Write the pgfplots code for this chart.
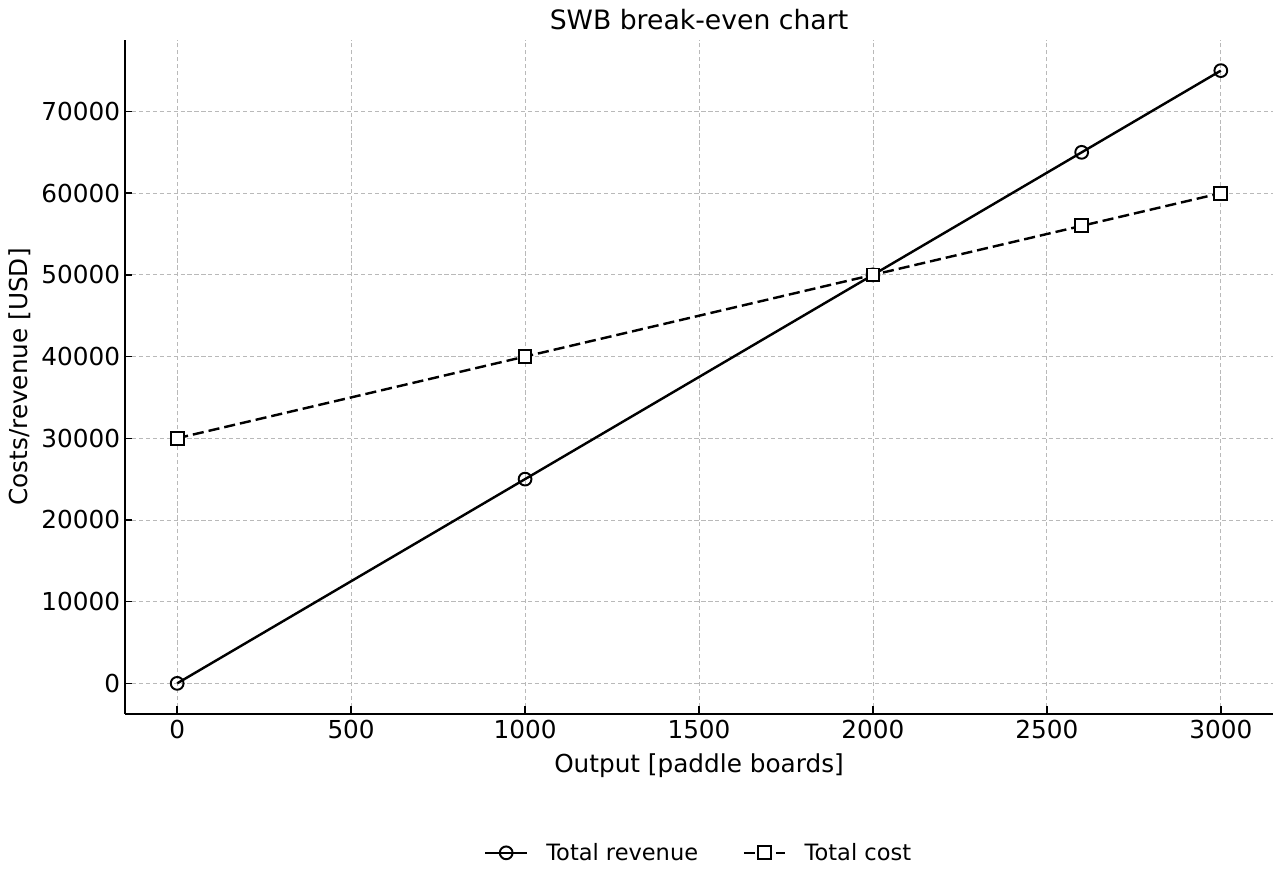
\documentclass[border=0pt]{standalone}
\usepackage{fontspec}
\setmainfont{DejaVu Sans}
\usepackage{pgfplots}
\pgfplotsset{compat=1.18}
\usetikzlibrary{calc}

\begin{document}
\begin{tikzpicture}
% 1px = 0.72pt
\path[use as bounding box] (-90pt,-119.52pt) rectangle (831.6pt,514.08pt);
\begin{axis}[
    at={(0pt,0pt)}, anchor=south west,
    scale only axis,
    width=826.56pt, height=485.28pt,
    xmin=-150, xmax=3150,
    ymin=-3750, ymax=78750,
    xtick={0,500,...,3000},
    ytick={0,10000,...,70000},
    scaled ticks=false,
    /pgf/number format/.cd, set thousands separator={}, assume math mode=true, /pgfplots/.cd,
    axis lines*=left,
    axis line style={line width=1.4pt},
    tick style={black, line width=1.1pt},
    tick align=inside,
    major tick length=5.4pt,
    tick label style={font=\fontsize{17.8}{21}\selectfont},
    xticklabel style={yshift=-1pt},
    grid=major,
    major grid style={gray!55, line width=0.6pt, dash pattern=on 3pt off 2pt},
    clip=false,
    legend style={
        at={(0.5,-0.206)}, anchor=center,
        draw=none, fill=none,
        legend columns=2,
        font=\fontsize{16.2}{19}\selectfont,
        /tikz/every odd column/.append style={column sep=11pt},
        /tikz/every even column/.append style={column sep=30pt}
    },
    legend cell align=left,
    legend image code/.code={
        \draw[mark repeat=2, mark phase=2, #1]
            plot coordinates {(0pt,0pt) (15pt,0pt) (30pt,0pt)};
    },
]
\addplot[black, line width=1.75pt, mark=o, mark size=4.6pt,
    mark options={solid, fill=white, line width=1.4pt}] coordinates {
    (0,0) (1000,25000) (2000,50000) (2600,65000) (3000,75000)
};
\addlegendentry{Total revenue}
\addplot[black, line width=1.75pt, dash pattern=on 8pt off 3.6pt, mark=square*, mark size=4.6pt,
    mark options={solid, fill=white, line width=1.4pt}] coordinates {
    (0,30000) (1000,40000) (2000,50000) (2600,56000) (3000,60000)
};
\addlegendentry{Total cost}
\node[font=\fontsize{19.2}{23}\selectfont] at (rel axis cs:0.5,1) [yshift=15pt] {SWB break-even chart};
\node[font=\fontsize{17.8}{21}\selectfont] at (rel axis cs:0.5,0) [yshift=-37.4pt] {Output [paddle boards]};
\node[font=\fontsize{17.8}{21}\selectfont, rotate=90] at ($(rel axis cs:0,0.5)+(-76pt,0pt)$) {Costs/revenue [USD]};
\end{axis}
\end{tikzpicture}
\end{document}
